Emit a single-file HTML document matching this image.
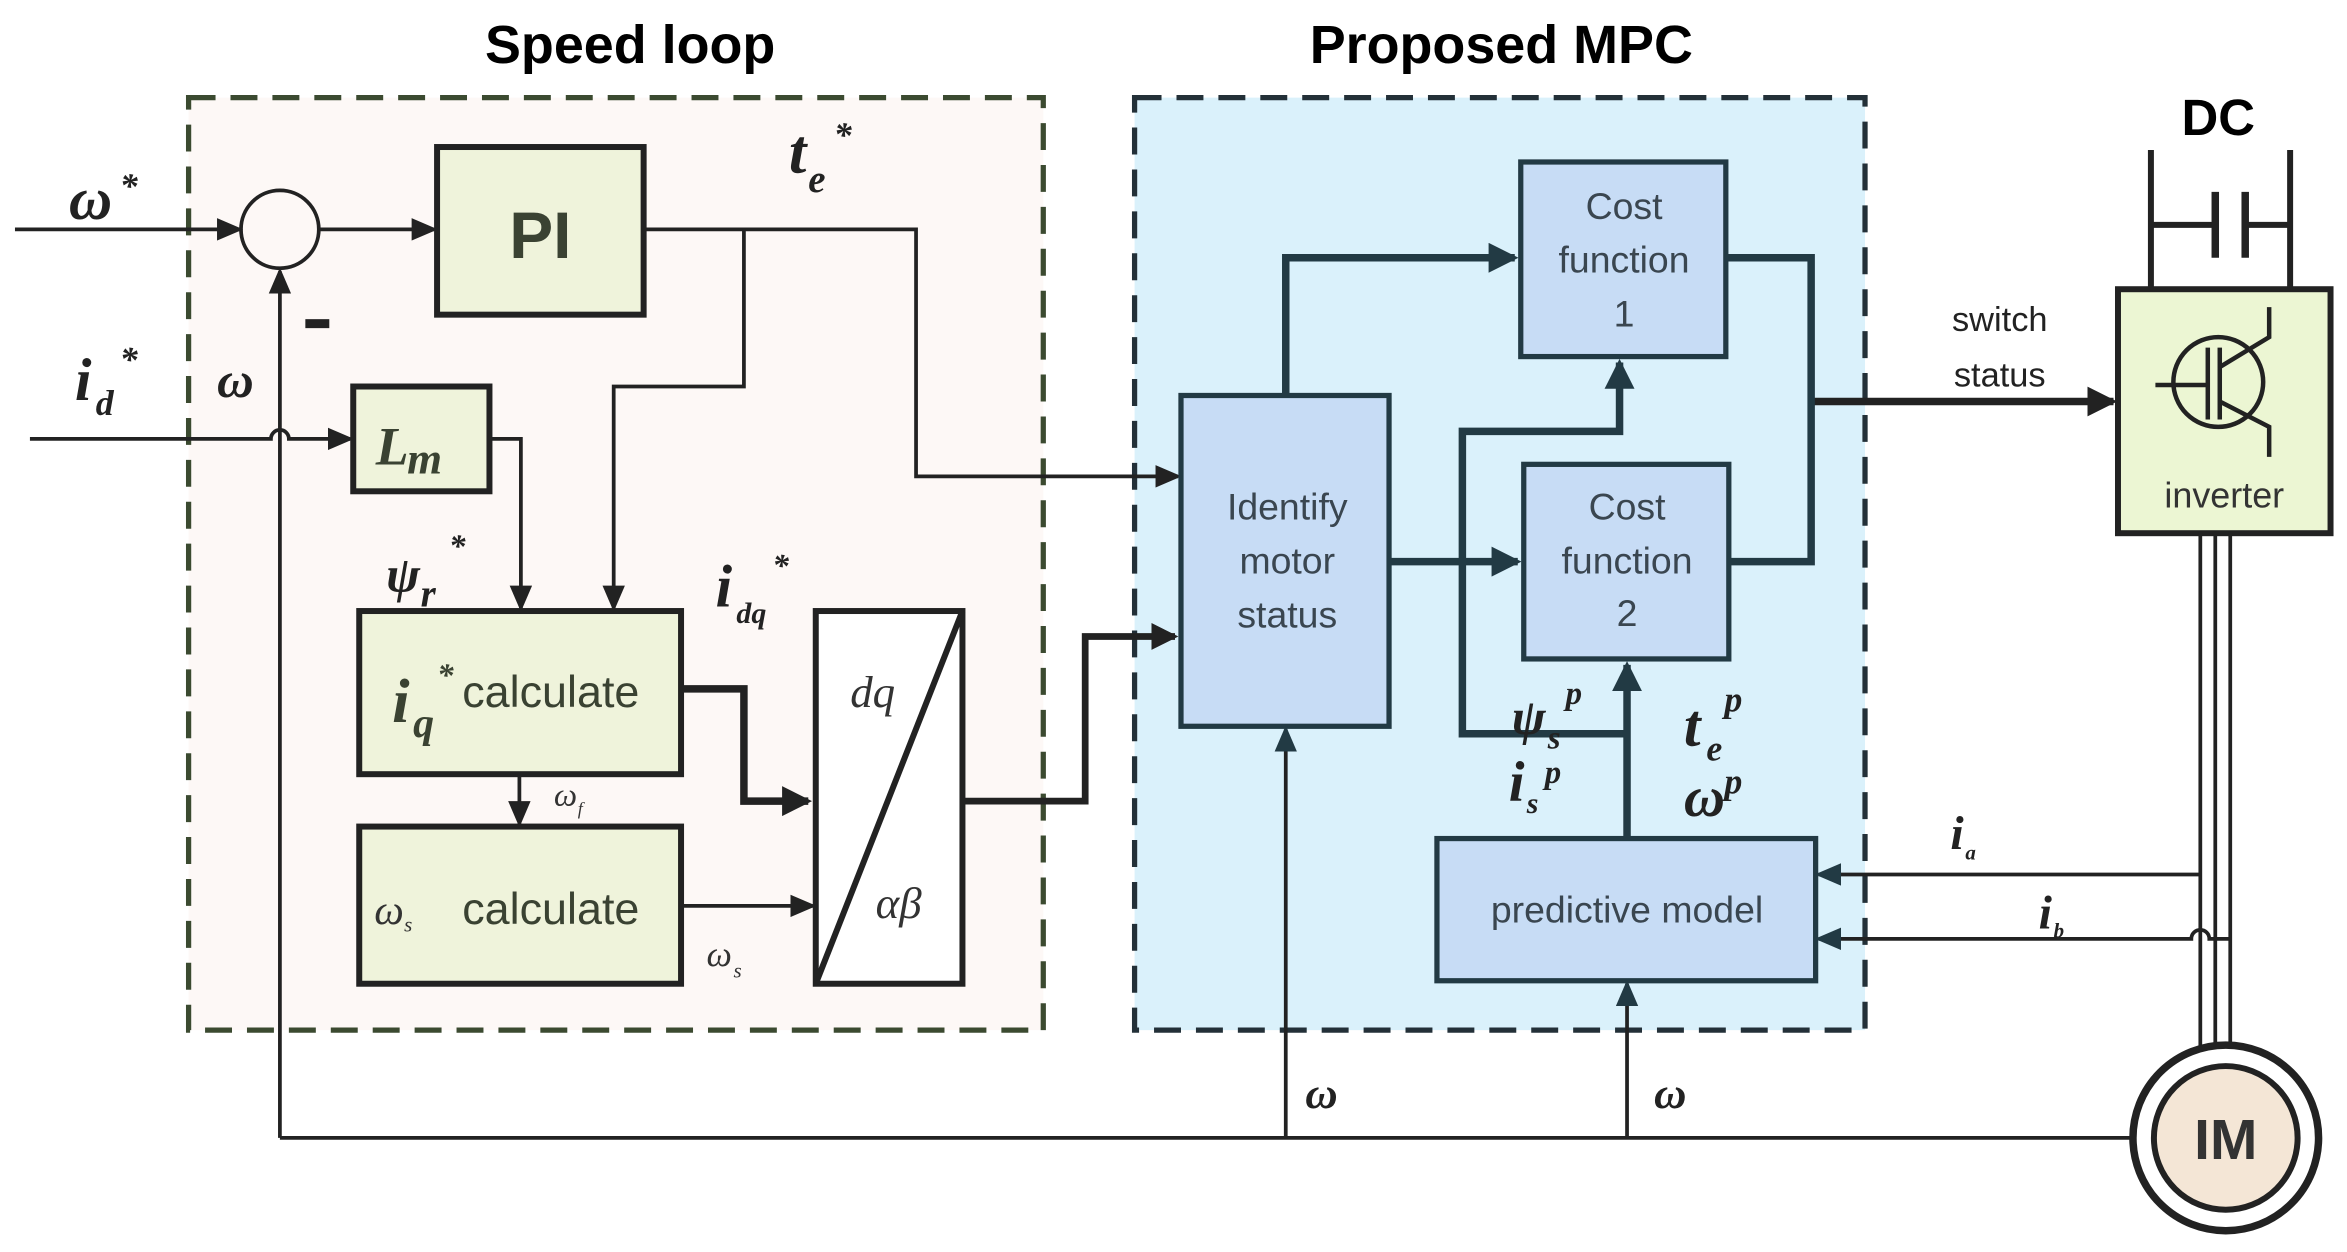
<!DOCTYPE html>
<html><head><meta charset="utf-8"><style>html,body{margin:0;padding:0;background:#fff}svg{display:block}</style></head>
<body>
<svg width="2347" height="1252" viewBox="0 0 1568 836" xmlns="http://www.w3.org/2000/svg" font-family="Liberation Sans, sans-serif">
<defs>
<marker id="b" markerWidth="4" markerHeight="4" refX="3.5" refY="2" orient="auto" markerUnits="strokeWidth"><path d="M0,0 L4,2 L0,4z" fill="#222"/></marker>
<marker id="t" markerWidth="7" markerHeight="6" refX="6" refY="3" orient="auto" markerUnits="strokeWidth"><path d="M0,0 L7,3 L0,6z" fill="#222"/></marker>
<marker id="c" markerWidth="4" markerHeight="4" refX="3.5" refY="2" orient="auto" markerUnits="strokeWidth"><path d="M0,0 L4,2 L0,4z" fill="#223a44"/></marker>
<marker id="ct" markerWidth="7" markerHeight="6" refX="6" refY="3" orient="auto" markerUnits="strokeWidth"><path d="M0,0 L7,3 L0,6z" fill="#223a44"/></marker>
</defs>
<text x="421" y="42" font-size="36" font-weight="bold" text-anchor="middle">Speed loop</text>
<text x="1003" y="42" font-size="36" font-weight="bold" text-anchor="middle">Proposed MPC</text>
<text x="1482" y="90" font-size="34" font-weight="bold" text-anchor="middle">DC</text>
<rect x="126" y="65" width="571" height="623" fill="#fdf8f6" stroke="#3b4a30" stroke-width="3.5" stroke-dasharray="18,10"/>
<rect x="758" y="65" width="488" height="623" fill="#daf1fb" stroke="#233038" stroke-width="3.5" stroke-dasharray="18,10"/>
<g stroke="#222" stroke-width="2.5" fill="none">
<line x1="10" y1="153" x2="160" y2="153" marker-end="url(#t)"/>
<circle cx="187" cy="153" r="26"/>
<line x1="213" y1="153" x2="290" y2="153" marker-end="url(#t)"/>
<path d="M20,293 H181 A6,6 0 0 1 193,293 H234" marker-end="url(#t)"/>
<path d="M187,760 V181" marker-end="url(#t)"/>
<path d="M430,153 H612 V318 H787" marker-end="url(#t)"/>
<path d="M497,153 V258 H410 V406" marker-end="url(#t)"/>
<path d="M327,293 H348 V406" marker-end="url(#t)"/>
<path d="M347,517 V550" marker-end="url(#t)"/>
<path d="M455,605 H543" marker-end="url(#t)"/>
<path d="M187,760 H1424"/>
<path d="M859,760 V487" marker-end="url(#ct)"/>
<path d="M1087,760 V657" marker-end="url(#ct)"/>
<path d="M1470,584 H1215" marker-end="url(#ct)"/>
<path d="M1490,627 H1476 A6,6 0 0 0 1464,627 H1215" marker-end="url(#ct)"/>
<line x1="1470" y1="356" x2="1470" y2="700"/><line x1="1480" y1="356" x2="1480" y2="700"/><line x1="1490" y1="356" x2="1490" y2="700"/>
</g>
<g stroke="#222" stroke-width="5" fill="none">
<path d="M455,460 H497 V535 H540" marker-end="url(#b)"/>
<path d="M643,535 H725 V425 H785" marker-end="url(#b)" stroke-width="4.5"/>
<path d="M1210,268 H1412" marker-end="url(#b)"/>
</g>
<g stroke="#223a44" stroke-width="5" fill="none">
<path d="M859,264 V172 H1012" marker-end="url(#c)"/>
<path d="M928,375 H1014" marker-end="url(#c)"/>
<path d="M1153,172 H1210 V375 H1155"/>
<path d="M1087,560 V444" marker-end="url(#c)"/>
<path d="M1087,490 H977 V288 H1082 V242" marker-end="url(#c)"/>
</g>
<g stroke="#222" stroke-width="4" fill="#eff3db">
<rect x="292" y="98" width="138" height="112"/>
<rect x="236" y="258" width="91" height="70"/>
<rect x="240" y="408" width="215" height="109"/>
<rect x="240" y="552" width="215" height="105"/>
</g>
<rect x="545" y="408" width="98" height="249" fill="#fff" stroke="#222" stroke-width="4"/>
<line x1="545" y1="657" x2="643" y2="408" stroke="#222" stroke-width="4"/>
<g stroke="#223a44" stroke-width="3.5" fill="#c7dcf5">
<rect x="789" y="264" width="139" height="221"/>
<rect x="1016" y="108" width="137" height="130"/>
<rect x="1018" y="310" width="137" height="130"/>
<rect x="960" y="560" width="253" height="95"/>
</g>
<rect x="1415" y="193" width="142" height="163" fill="#ecf6d3" stroke="#222" stroke-width="4"/>
<g stroke="#222" stroke-width="4" fill="none">
<path d="M1437,193 V100 M1530,193 V100 M1437,150 H1480 M1500,150 H1530"/>
<path d="M1480,128 V172 M1500,128 V172" stroke-width="5"/>
<circle cx="1482" cy="255" r="30" stroke-width="3"/>
<path d="M1440,257 H1475 M1475,232 V280 M1483,232 V280 M1483,245 L1516,225 V205 M1483,268 L1516,285 V305" stroke-width="3"/>
</g>
<circle cx="1487" cy="760" r="62" fill="#fff" stroke="#222" stroke-width="5"/>
<circle cx="1487" cy="760" r="48" fill="#f4e6d6" stroke="#222" stroke-width="4"/>
<text x="1487" y="774" font-size="38" font-weight="bold" text-anchor="middle" fill="#333">IM</text>
<g font-family="Liberation Sans, sans-serif" text-anchor="middle">
<text x="361" y="172" font-size="44" font-weight="bold" fill="#3a4232">PI</text>
<text x="1085" y="146" font-size="25" fill="#3a4650">Cost</text>
<text x="1085" y="182" font-size="25" fill="#3a4650">function</text>
<text x="1085" y="218" font-size="25" fill="#3a4650">1</text>
<text x="1087" y="347" font-size="25" fill="#3a4650">Cost</text>
<text x="1087" y="383" font-size="25" fill="#3a4650">function</text>
<text x="1087" y="418" font-size="25" fill="#3a4650">2</text>
<text x="860" y="347" font-size="25" fill="#3a4650">Identify</text>
<text x="860" y="383" font-size="25" fill="#3a4650">motor</text>
<text x="860" y="419" font-size="25" fill="#3a4650">status</text>
<text x="1087" y="616" font-size="25" fill="#3a4650">predictive model</text>
<text x="1486" y="339" font-size="24" fill="#333">inverter</text>
<text x="1336" y="221" font-size="23" fill="#222">switch</text>
<text x="1336" y="258" font-size="23" fill="#222">status</text>
<text x="368" y="472" font-size="30" fill="#3a4232">calculate</text>
<text x="368" y="617" font-size="30" fill="#3a4232">calculate</text>
</g>
<g font-family="Liberation Serif, serif" font-style="italic" font-weight="bold" fill="#222">
<text x="46" y="146" font-size="40">ω</text><text x="80" y="132" font-size="24">*</text>
<text x="50" y="267" font-size="40">i</text><text x="64" y="277" font-size="24">d</text><text x="80" y="248" font-size="24">*</text>
<text x="145" y="265" font-size="34">ω</text>
<rect x="204" y="213" width="16" height="6" fill="#222"/>
<text x="527" y="115" font-size="42">t</text><text x="540" y="128" font-size="26">e</text><text x="557" y="98" font-size="24">*</text>
<text x="251" y="310" font-size="36" fill="#3a4232">L</text><text x="272" y="316" font-size="30" fill="#3a4232">m</text>
<text x="258" y="395" font-size="34">ψ</text><text x="281" y="405" font-size="26">r</text><text x="300" y="372" font-size="22">*</text>
<text x="478" y="405" font-size="40">i</text><text x="492" y="416" font-size="20">dq</text><text x="516" y="385" font-size="22">*</text>
<text x="262" y="482" font-size="42" fill="#3a4232">i</text><text x="276" y="492" font-size="28" fill="#3a4232">q</text><text x="292" y="458" font-size="22" fill="#3a4232">*</text>
<text x="1010" y="490" font-size="34">ψ</text><text x="1034" y="500" font-size="22">s</text><text x="1046" y="470" font-size="22">p</text>
<text x="1125" y="498" font-size="40">t</text><text x="1140" y="508" font-size="24">e</text><text x="1152" y="475" font-size="24">p</text>
<text x="1008" y="535" font-size="38">i</text><text x="1020" y="543" font-size="20">s</text><text x="1032" y="523" font-size="22">p</text>
<text x="1125" y="545" font-size="38">ω</text><text x="1152" y="530" font-size="24">p</text>
<text x="1303" y="567" font-size="32">i</text><text x="1313" y="574" font-size="14">a</text>
<text x="1362" y="620" font-size="32">i</text><text x="1372" y="626" font-size="14">b</text>
<text x="872" y="740" font-size="30">ω</text>
<text x="1105" y="740" font-size="30">ω</text>
</g>
<g font-family="Liberation Serif, serif" font-style="italic" fill="#333">
<text x="568" y="472" font-size="30">dq</text>
<text x="585" y="613" font-size="30">αβ</text>
<text x="250" y="617" font-size="28">ω</text><text x="270" y="622" font-size="14">s</text>
<text x="370" y="538" font-size="22">ω</text><text x="386" y="544" font-size="12">f</text>
<text x="472" y="645" font-size="24">ω</text><text x="490" y="653" font-size="14">s</text>
</g>
</svg>
</body></html>
